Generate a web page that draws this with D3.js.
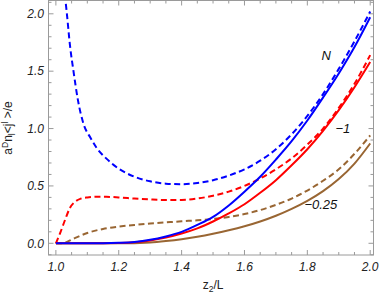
<!DOCTYPE html>
<html><head><meta charset="utf-8">
<script src="https://cdn.jsdelivr.net/npm/d3@7"></script>
<style>body{margin:0;background:#fff}svg{display:block}</style>
</head><body>
<svg id="c" width="382" height="300"></svg>
<script>
// ---- data ----
const blueDashedX = [1.025,1.035,1.045,1.056,1.07,1.088,1.11,1.13,1.16,1.2,1.25,1.3,1.35,1.4,1.45,1.5,1.55,1.6,1.65,1.7,1.75,1.8,1.85,1.9,1.95,2.0];
const blueDashedY = [2.25,2.0,1.72,1.5,1.25,1.04,0.92,0.83,0.74,0.65,0.58,0.54,0.52,0.515,0.525,0.55,0.59,0.645,0.72,0.82,0.95,1.11,1.3,1.52,1.76,2.02];
const blueSolidX = [1.0,1.1,1.2,1.25,1.3,1.35,1.4,1.45,1.5,1.55,1.6,1.65,1.7,1.75,1.8,1.85,1.9,1.95,2.0];
const blueSolidY = [0,0,0.005,0.012,0.03,0.06,0.1,0.16,0.23,0.33,0.45,0.58,0.73,0.89,1.07,1.27,1.48,1.71,1.97];
const redDashedX = [1.0,1.015,1.03,1.045,1.06,1.08,1.1,1.13,1.16,1.2,1.25,1.3,1.35,1.4,1.45,1.5,1.55,1.6,1.65,1.7,1.75,1.8,1.85,1.9,1.95,2.0];
const redDashedY = [0,0.1,0.21,0.31,0.36,0.39,0.40,0.405,0.405,0.40,0.39,0.382,0.377,0.378,0.39,0.415,0.45,0.5,0.565,0.645,0.74,0.86,1.0,1.18,1.39,1.64];
const redSolidX = [1.0,1.1,1.2,1.25,1.3,1.35,1.4,1.45,1.5,1.55,1.6,1.65,1.7,1.75,1.8,1.85,1.9,1.95,2.0];
const redSolidY = [0,0,0.003,0.01,0.025,0.05,0.085,0.13,0.19,0.26,0.34,0.44,0.55,0.68,0.82,0.98,1.16,1.36,1.58];
const brownDashedX = [1.0,1.02,1.06,1.1,1.15,1.2,1.25,1.3,1.35,1.4,1.45,1.5,1.55,1.6,1.65,1.7,1.75,1.8,1.85,1.9,1.95,2.0];
const brownDashedY = [0,0,0.045,0.09,0.125,0.145,0.16,0.172,0.182,0.192,0.2,0.212,0.23,0.255,0.29,0.335,0.39,0.46,0.545,0.645,0.78,0.94];
const brownSolidX = [1.0,1.2,1.3,1.35,1.4,1.45,1.5,1.55,1.6,1.65,1.7,1.75,1.8,1.85,1.9,1.95,2.0];
const brownSolidY = [0,0,0.008,0.02,0.036,0.057,0.083,0.113,0.148,0.19,0.24,0.3,0.37,0.455,0.56,0.695,0.87];

const xMajorTicks = [1.0,1.2,1.4,1.6,1.8,2.0];
const yMajorTicks = [0.0,0.5,1.0,1.5,2.0];
const curveLabels = ["N","\u22121","\u22120.25"];
const labelAt = [[1.86,1.6],[1.913,0.962],[1.843,0.299]];

// ---- layout ----
const svg = d3.select("#c");
const L = 48.5, R = 373.5, T = 0.5, B = 255;
const x = d3.scaleLinear().domain([0.9765, 2.0105]).range([L, R]);
const y = d3.scaleLinear().domain([-0.102, 2.116]).range([B, T]);

const frameColor = "#9a9a9a";
const textColor = "#222";

svg.append("defs").append("clipPath").attr("id","clip")
  .append("rect").attr("x",L).attr("y",T).attr("width",R-L).attr("height",B-T);

// ticks (inward on all four sides)
const g = svg.append("g");
const xMinor = d3.range(1.0, 2.0001, 0.05).map(v=>+v.toFixed(2));
const yMinor = d3.range(-0.1, 2.1001, 0.1).map(v=>+v.toFixed(1));
function isMajor(v, arr){ return arr.some(a=>Math.abs(a-v)<1e-6); }
xMinor.forEach(v=>{
  const len = isMajor(v,xMajorTicks)?5:3;
  g.append("line").attr("x1",x(v)).attr("x2",x(v)).attr("y1",B).attr("y2",B-len).attr("stroke",frameColor).attr("stroke-width",1);
  g.append("line").attr("x1",x(v)).attr("x2",x(v)).attr("y1",T).attr("y2",T+len).attr("stroke",frameColor).attr("stroke-width",1);
});
yMinor.forEach(v=>{
  if (y(v) > B+0.5 || y(v) < T-0.5) return;
  const len = isMajor(v,yMajorTicks)?5:3;
  g.append("line").attr("y1",y(v)).attr("y2",y(v)).attr("x1",L).attr("x2",L+len).attr("stroke",frameColor).attr("stroke-width",1);
  g.append("line").attr("y1",y(v)).attr("y2",y(v)).attr("x1",R).attr("x2",R-len).attr("stroke",frameColor).attr("stroke-width",1);
});

// curves
const line = d3.line().x(d=>x(d[0])).y(d=>y(d[1])).curve(d3.curveMonotoneX);
const zip = (a,b)=>a.map((v,i)=>[v,b[i]]);
const series = [
  {xs:brownSolidX, ys:brownSolidY, c:"#996633", dash:null},
  {xs:brownDashedX, ys:brownDashedY, c:"#996633", dash:"6,3.5"},
  {xs:redSolidX, ys:redSolidY, c:"#ff0000", dash:null},
  {xs:redDashedX, ys:redDashedY, c:"#ff0000", dash:"6,3.5"},
  {xs:blueSolidX, ys:blueSolidY, c:"#0000ff", dash:null},
  {xs:blueDashedX, ys:blueDashedY, c:"#0000ff", dash:"6,3.5"}
];
const cg = svg.append("g").attr("clip-path","url(#clip)");
series.forEach(s=>{
  cg.append("path").attr("d", line(zip(s.xs,s.ys)))
    .attr("fill","none").attr("stroke",s.c).attr("stroke-width",2)
    .attr("stroke-dasharray", s.dash);
});

// frame
svg.append("rect").attr("x",L).attr("y",T).attr("width",R-L).attr("height",B-T)
  .attr("fill","none").attr("stroke",frameColor).attr("stroke-width",1);

// tick labels
const font = "'Liberation Sans', Arial, sans-serif";
xMajorTicks.forEach(v=>{
  svg.append("text").attr("x",x(v)).attr("y",270.5).attr("text-anchor","middle")
    .attr("font-family",font).attr("font-style","italic").attr("font-size",12).attr("fill",textColor)
    .text(v.toFixed(1));
});
yMajorTicks.forEach(v=>{
  svg.append("text").attr("x",44).attr("y",y(v)+4.3).attr("text-anchor","end")
    .attr("font-family",font).attr("font-style","italic").attr("font-size",12).attr("fill",textColor)
    .text(v.toFixed(1));
});

// curve labels
curveLabels.forEach((t,i)=>{
  svg.append("text").attr("x",x(labelAt[i][0])).attr("y",y(labelAt[i][1])).attr("text-anchor","middle")
    .attr("font-family",font).attr("font-style","italic").attr("font-size",13).attr("fill","#111")
    .text(t);
});

// axis labels
const xl = svg.append("text").attr("x",(x(1)+x(2))/2).attr("y",289).attr("text-anchor","middle")
  .attr("font-family",font).attr("font-size",12).attr("fill",textColor);
xl.append("tspan").text("z");
xl.append("tspan").attr("dy",3).attr("font-size",8.5).text("2");
xl.append("tspan").attr("dy",-3).text("/L");

const yl = svg.append("text").attr("transform","translate(12,128) rotate(-90)").attr("text-anchor","middle")
  .attr("font-family",font).attr("font-size",12).attr("fill",textColor);
yl.append("tspan").text("a");
yl.append("tspan").attr("dy",-4).attr("font-size",8.5).text("D");
yl.append("tspan").attr("dy",4).text("n");
yl.append("tspan").attr("dy",3).attr("font-size",8.5).text("l");
yl.append("tspan").attr("dy",-3).text("<j");
yl.append("tspan").attr("dy",-4).attr("font-size",8.5).text("l");
yl.append("tspan").attr("dy",4).text(" >/e");
</script>
</body></html>
